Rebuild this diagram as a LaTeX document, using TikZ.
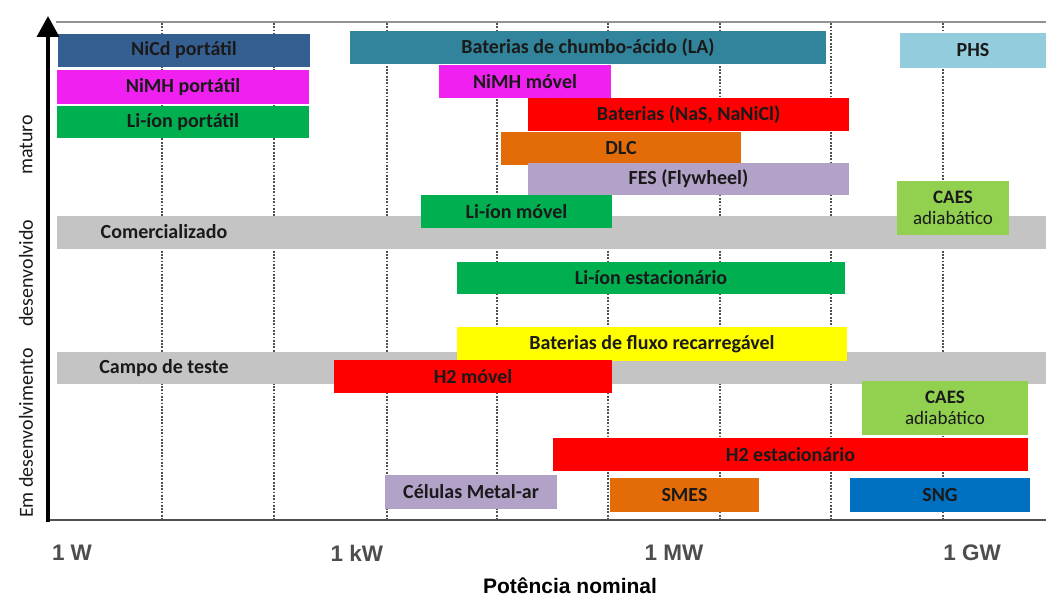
\documentclass[tikz,border=0pt]{standalone}
\usepackage{fontspec}
\setmainfont{Carlito}
\newfontfamily\arialfont{Liberation Sans}
\usetikzlibrary{arrows.meta}
\definecolor{cNiCd}{RGB}{54,95,145}
\definecolor{cTeal}{RGB}{49,132,155}
\definecolor{cMag}{RGB}{240,32,240}
\definecolor{cGreen}{RGB}{0,176,80}
\definecolor{cRed}{RGB}{255,0,0}
\definecolor{cOrange}{RGB}{227,108,9}
\definecolor{cLav}{RGB}{178,162,199}
\definecolor{cLG}{RGB}{146,208,80}
\definecolor{cPHS}{RGB}{147,205,221}
\definecolor{cYellow}{RGB}{255,255,0}
\definecolor{cBlue}{RGB}{0,112,192}
\definecolor{cGray}{RGB}{196,196,196}
\definecolor{cText}{RGB}{26,26,26}
\definecolor{cGrid}{RGB}{80,80,80}
\definecolor{cTick}{RGB}{77,77,77}
\tikzset{
  barbox/.style={inner sep=0pt, outer sep=0pt, draw=none, text=cText,
    font=\fontsize{20}{22}\selectfont\bfseries},
  caesbox/.style={align=center, font=\fontsize{19}{21}\selectfont},
  bandlabel/.style={text=cText, font=\fontsize{20}{22}\selectfont\bfseries},
  ylabel/.style={rotate=90, text=cText, font=\fontsize{20}{22}\selectfont},
  ticklabel/.style={text=cTick, font=\arialfont\fontsize{22.5}{24}\selectfont\bfseries},
  axistitle/.style={text=black, font=\arialfont\fontsize{21}{23}\selectfont\bfseries},
  gridline/.style={cGrid, line width=2.2pt, dash pattern=on 1.8pt off 1.5pt},
}
\newcommand{\mybar}[7]{%
  \node[barbox, fill=#6, minimum width={(#4-#2)*1pt}, minimum height={(#5-#3)*1pt}]
    (#1) at ({(#2+#4)/2},{(#3+#5)/2}) {#7};}
\begin{document}
\begin{tikzpicture}[x=1pt,y=-1pt]
\path[use as bounding box, fill=white] (0,0) rectangle (1046,599);
% frame and grid
\coordinate (ftl) at (56,22);
\coordinate (ftr) at (1046,22);
\draw[gray!85, line width=1.8pt] (ftl) -- (ftr);
\foreach \gx in {162,274,387,497,608,720,831,943}{
  \draw[gridline] (\gx,23) -- (\gx,519);
}
\coordinate (xa) at (48,520);
\coordinate (xb) at (1046,520);
\draw[cGrid, line width=2.2pt] (xa) -- (xb);
% bands
\mybar{com}{57}{216}{1046}{249}{cGray}{}
\mybar{campo}{57}{352}{1046}{384}{cGray}{}
\node[bandlabel] (comt) at (164,232) {Comercializado};
\node[bandlabel] (campot) at (164,368) {Campo de teste};
% bars
\mybar{nicd}{58}{34}{310}{67}{cNiCd}{NiCd portátil}
\mybar{nimhp}{57}{70}{309}{104}{cMag}{NiMH portátil}
\mybar{lip}{57}{106}{309}{138}{cGreen}{Li-íon portátil}
\mybar{la}{350}{31}{826}{64}{cTeal}{Baterias de chumbo-ácido (LA)}
\mybar{nimhm}{439}{65}{611}{98}{cMag}{NiMH móvel}
\mybar{nas}{528}{98}{849}{131}{cRed}{Baterias (NaS, NaNiCl)}
\mybar{dlc}{501}{132}{741}{165}{cOrange}{DLC}
\mybar{fes}{528}{163}{849}{195}{cLav}{FES (Flywheel)}
\mybar{lim}{421}{195}{612}{228}{cGreen}{Li-íon móvel}
\mybar{phs}{900}{33}{1046}{68}{cPHS}{PHS}
\node[barbox, caesbox, fill=cLG, minimum width=112pt, minimum height=54pt]
  (caesa) at (953,208) {\textbf{CAES}\\adiabático};
\mybar{lie}{457}{262}{845}{294}{cGreen}{Li-íon estacionário}
\mybar{flux}{457}{327}{847}{361}{cYellow}{Baterias de fluxo recarregável}
\mybar{h2m}{334}{360}{612}{393}{cRed}{H2 móvel}
\node[barbox, caesbox, fill=cLG, minimum width=166pt, minimum height=54pt]
  (caesb) at (945,408) {\textbf{CAES}\\adiabático};
\mybar{h2e}{553}{438}{1028}{471}{cRed}{H2 estacionário}
\mybar{metal}{385}{475}{557}{509}{cLav}{Células Metal-ar}
\mybar{smes}{610}{478}{759}{512}{cOrange}{SMES}
\mybar{sng}{850}{478}{1030}{512}{cBlue}{SNG}
% y axis
\coordinate (ybot) at (48,522);
\coordinate (ytop) at (48,16);
\draw[black, line width=3.5pt, -{Triangle[length=21pt,width=22pt]}] (ybot) -- (ytop);
% y labels
\node[ylabel] (ymat) at (26,145) {maturo};
\node[ylabel] (ydes) at (26,273) {desenvolvido};
\node[ylabel] (yemd) at (26,433) {Em desenvolvimento};
% x labels
\node[ticklabel] (t1) at (72,553) {1 W};
\node[ticklabel] (t2) at (357,553) {1 kW};
\node[ticklabel] (t3) at (674,553) {1 MW};
\node[ticklabel] (t4) at (972,553) {1 GW};
\node[axistitle] (xt) at (570,586) {Potência nominal};
\end{tikzpicture}
\end{document}
